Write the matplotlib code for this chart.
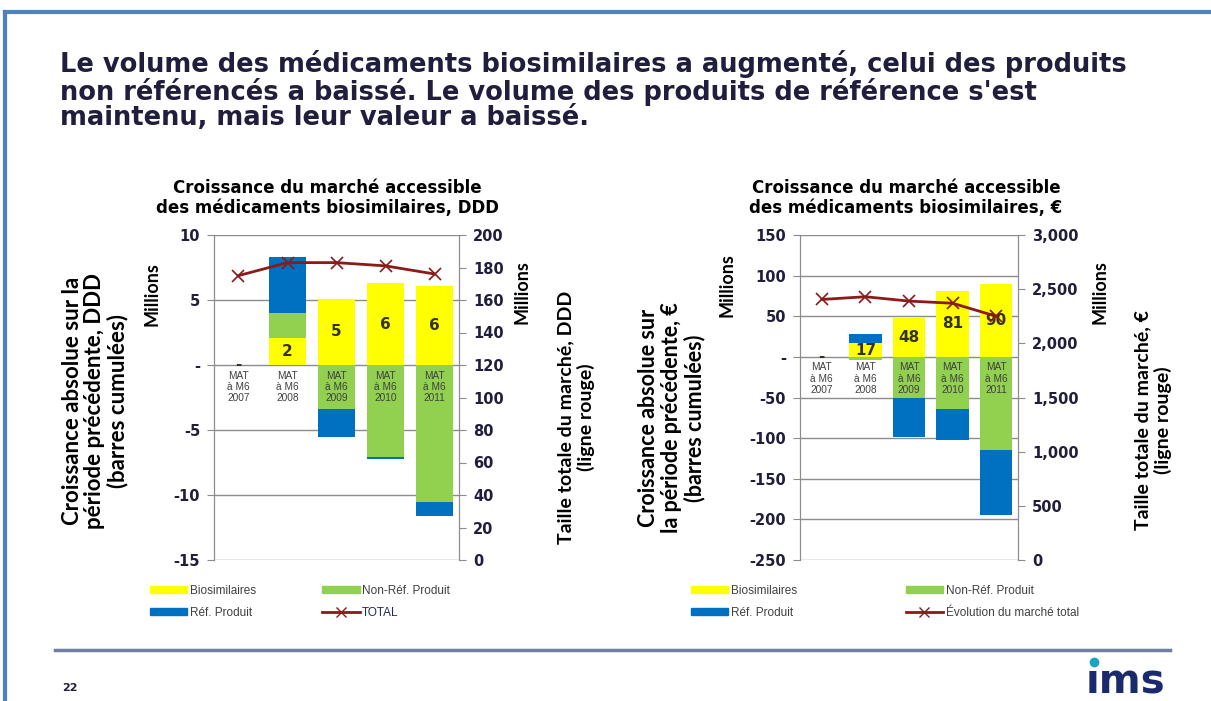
import numpy as np
import matplotlib
matplotlib.use('Agg')
import matplotlib.pyplot as plt
from matplotlib.patches import Patch
from matplotlib.lines import Line2D

# Data (millions)
categories = ['MAT\nà M6\n2007', 'MAT\nà M6\n2008', 'MAT\nà M6\n2009', 'MAT\nà M6\n2010', 'MAT\nà M6\n2011']

ddd_bio = [0, 2.1, 5.1, 6.3, 6.1]
ddd_nonref = [0, 1.9, -3.4, -7.1, -10.5]
ddd_ref = [0, 4.3, -2.1, -0.15, -1.1]
ddd_total = [175, 183, 183, 181, 176]

eur_bio = [0, 16.6, 48.3, 81.4, 89.6]
eur_nonref = [0, -4, -50, -64, -114]
eur_ref = [0, 12, -48, -38, -81]
eur_total = [2405, 2430, 2390, 2370, 2250]

C_BIO = '#ffff00'
C_NONREF = '#92d050'
C_REF = '#0070c0'
C_LINE = '#8b1a1a'
NAVY = '#201e3c'
GRID = '#8c8c8c'

W, H = 1211, 701


def fx(x):
    return x / W


def fy(y):
    return 1 - y / H


def stacked(ax, series, colors, width):
    x = np.arange(len(categories))
    pos = np.zeros(len(x))
    neg = np.zeros(len(x))
    for vals, col in zip(series, colors):
        vals = np.array(vals, dtype=float)
        bottom = np.where(vals >= 0, pos, neg)
        ax.bar(x, vals, width, bottom=bottom, color=col, zorder=2, linewidth=0)
        pos = pos + np.where(vals >= 0, vals, 0)
        neg = neg + np.where(vals < 0, vals, 0)
    # labels for biosimilaires
    for i, v in enumerate(series[0]):
        txt = '-' if round(v) == 0 else str(int(round(v)))
        ax.text(i, v / 2, txt, ha='center', va='center', fontsize=11,
                fontweight='bold', color='#333322', zorder=4)
    for i, c in enumerate(categories):
        ax.annotate(c, (i, 0), xytext=(0, -4), textcoords='offset points',
                    ha='center', va='top', fontsize=7.3, color='#404040',
                    linespacing=1.15, family='Liberation Sans', zorder=3)


def style(ax, ax2, ylim, yticks, ylim2, yticks2, fmt2):
    ax.set_xlim(-0.5, len(categories) - 0.5)
    ax.set_ylim(*ylim)
    ax.set_yticks(yticks)
    ax.set_yticklabels(['-' if t == 0 else f'{t:g}' for t in yticks])
    ax.set_xticks([])
    ax.grid(axis='y', color=GRID, lw=1, zorder=0)
    ax.set_axisbelow(True)
    for s in ['top', 'bottom']:
        ax.spines[s].set_visible(False)
        ax2.spines[s].set_visible(False)
    for s in ['left', 'right']:
        ax.spines[s].set_color(GRID)
        ax2.spines[s].set_color(GRID)
    ax.tick_params(axis='y', length=5, color=GRID, labelsize=10.5, labelcolor=NAVY, pad=5)
    for t in ax.get_yticklabels():
        t.set_fontweight('bold')
    ax2.set_ylim(*ylim2)
    ax2.set_yticks(yticks2)
    ax2.set_yticklabels([fmt2(t) for t in yticks2])
    ax2.tick_params(axis='y', length=5, color=GRID, labelsize=10.5, labelcolor=NAVY, pad=5)
    for t in ax2.get_yticklabels():
        t.set_fontweight('bold')


fig = plt.figure(figsize=(W / 100, H / 100), dpi=100)
fig.patch.set_facecolor('white')

# slide frame
fig.add_artist(Line2D([fx(5), fx(1211)], [fy(12), fy(12)], color='#4f81bd', lw=3))
fig.add_artist(Line2D([fx(5), fx(5)], [fy(12), fy(701)], color='#4f81bd', lw=3))
fig.add_artist(Line2D([fx(55), fx(1170)], [fy(650), fy(650)], color='#6d7fa3', lw=2.5))

fig.text(fx(60), fy(50), "Le volume des médicaments biosimilaires a augmenté, celui des produits\n"
         "non référencés a baissé. Le volume des produits de référence s'est\n"
         "maintenu, mais leur valeur a baissé.", ha='left', va='top',
         fontsize=18.5, fontweight='bold', color=NAVY, linespacing=0.98)

fig.text(fx(62), fy(688), '22', fontsize=8, fontweight='bold', color=NAVY, va='center')
fig.text(fx(1086), fy(682), 'ıms', fontsize=29, fontweight='bold', color='#1a2a6c',
         ha='left', va='center')
fig.add_artist(Line2D([fx(1094)], [fy(662)], marker='o', markersize=6,
                      color='#1aa3c4', lw=0))

lab_font = dict(family='Lato', fontweight='bold', color='black')

# ---------------- left chart (DDD) ----------------
ax = fig.add_axes([fx(214), fy(560), (459 - 214) / W, 325 / H])
ax2 = ax.twinx()
stacked(ax, [ddd_bio, ddd_nonref, ddd_ref], [C_BIO, C_NONREF, C_REF], 0.77)
ax2.plot(np.arange(len(categories)), ddd_total, color=C_LINE, lw=2, marker='x',
         markersize=8, mew=1.2, zorder=5)
style(ax, ax2, (-15, 10), [-15, -10, -5, 0, 5, 10], (0, 200), list(range(0, 201, 20)),
      lambda t: f'{t:d}')

fig.text(fx(327), fy(198), 'Croissance du marché accessible\ndes médicaments biosimilaires, DDD',
         ha='center', va='center', fontsize=12, fontweight='bold', color='black', linespacing=1.2)
fig.text(fx(95), fy(401), 'Croissance absolue sur la\npériode précédente, DDD\n(barres cumulées)',
         rotation=90, ha='center', va='center', fontsize=16, linespacing=1.08, **lab_font)
fig.text(fx(152), fy(294), 'Millions', rotation=90, ha='center', va='center', fontsize=13, **lab_font)
fig.text(fx(522), fy(292), 'Millions', rotation=90, ha='center', va='center', fontsize=13, **lab_font)
fig.text(fx(576), fy(417), 'Taille totale du marché, DDD\n(ligne rouge)', rotation=90,
         ha='center', va='center', fontsize=14, linespacing=1.2, **lab_font)

# ---------------- right chart (EUR) ----------------
bx = fig.add_axes([fx(800), fy(560), (1018 - 800) / W, 325 / H])
bx2 = bx.twinx()
stacked(bx, [eur_bio, eur_nonref, eur_ref], [C_BIO, C_NONREF, C_REF], 0.74)
bx2.plot(np.arange(len(categories)), eur_total, color=C_LINE, lw=2, marker='x',
         markersize=8, mew=1.2, zorder=5)
style(bx, bx2, (-250, 150), list(range(-250, 151, 50)), (0, 3000), list(range(0, 3001, 500)),
      lambda t: f'{t:,d}')

fig.text(fx(906), fy(198), 'Croissance du marché accessible\ndes médicaments biosimilaires, €',
         ha='center', va='center', fontsize=12, fontweight='bold', color='black', linespacing=1.2)
fig.text(fx(672), fy(418), 'Croissance absolue sur\nla période précédente, €\n(barres cumulées)',
         rotation=90, ha='center', va='center', fontsize=15.5, linespacing=1.1, **lab_font)
fig.text(fx(727), fy(285), 'Millions', rotation=90, ha='center', va='center', fontsize=13, **lab_font)
fig.text(fx(1100), fy(292), 'Millions', rotation=90, ha='center', va='center', fontsize=13, **lab_font)
fig.text(fx(1153), fy(420), 'Taille totale du marché, €\n(ligne rouge)', rotation=90,
         ha='center', va='center', fontsize=14, linespacing=1.2, **lab_font)

# ---------------- legends ----------------
def legend_handles(line_label):
    return ([Patch(color=C_BIO), Patch(color=C_REF), Patch(color=C_NONREF),
             Line2D([], [], color=C_LINE, lw=2, marker='x', markersize=7)],
            ['Biosimilaires', 'Réf. Produit', 'Non-Réf. Produit', line_label])


h, l = legend_handles('TOTAL')
leg = fig.legend(h, l, loc='upper left', bbox_to_anchor=(fx(139), fy(574)), ncol=2, frameon=False,
                 handlelength=3.2, handleheight=0.6, handletextpad=0.2,
                 columnspacing=5.6, labelspacing=0.85, labelcolor='#404040',
                 prop={'family': 'Liberation Sans', 'size': 8.5})
leg.get_texts()[3].set_color('#1f2a5a')
h, l = legend_handles('Évolution du marché total')
fig.legend(h, l, loc='upper left', bbox_to_anchor=(fx(680), fy(574)), ncol=2, frameon=False,
           handlelength=3.2, handleheight=0.6, handletextpad=0.2,
           columnspacing=9.2, labelspacing=0.85, labelcolor='#404040',
           prop={'family': 'Liberation Sans', 'size': 8.5})

fig.savefig('out.png', dpi=100)
